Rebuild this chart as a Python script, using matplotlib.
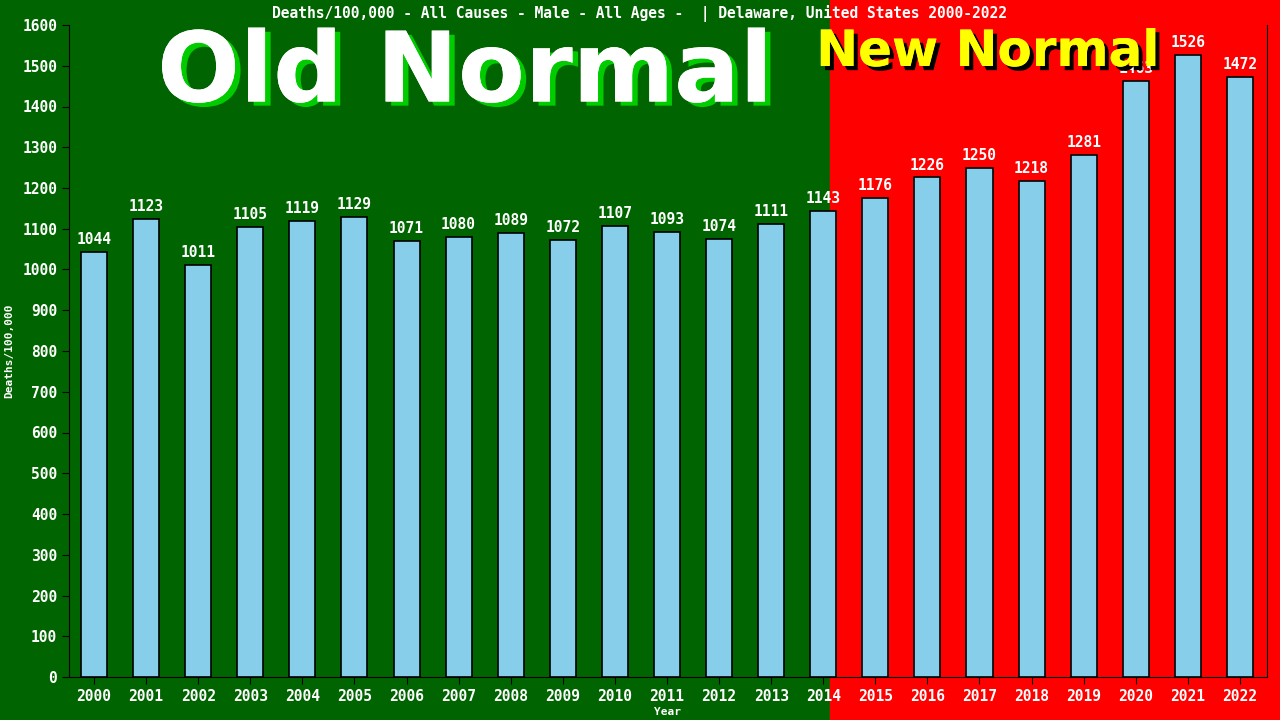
import matplotlib
matplotlib.use("Agg")
import matplotlib.pyplot as plt
import matplotlib.patheffects as pe

years = list(range(2000, 2023))
values = [1044, 1123, 1011, 1105, 1119, 1129, 1071, 1080, 1089, 1072, 1107, 1093,
          1074, 1111, 1143, 1176, 1226, 1250, 1218, 1281, 1463, 1526, 1472]
title = "Deaths/100,000 - All Causes - Male - All Ages -  | Delaware, United States 2000-2022"

fig = plt.figure(figsize=(12.8, 7.2), dpi=100)
fig.patch.set_facecolor("#006400")
W, H = 1280, 720
ax = fig.add_axes([69/W, 1-677/H, (1267-69)/W, (677-25)/H])
x0, x1 = -0.48, 22.52
ax.set_xlim(x0, x1)
ax.set_ylim(0, 1600)
split = 14.13
fx = (69 + (split - x0) / (x1 - x0) * (1267 - 69)) / W
fig.patches.append(plt.Rectangle((fx, 0), 1 - fx, 1, transform=fig.transFigure,
                                 color="#ff0000", zorder=-10))
ax.patch.set_alpha(0)

xs = list(range(len(years)))
ax.bar(xs, values, width=0.5, color="#87ceeb", edgecolor="black", linewidth=1.2, zorder=3)
for x, v in zip(xs, values):
    ax.text(x, v + 12, str(v), ha="center", va="bottom", color="white",
            fontsize=10.5, family="DejaVu Sans Mono", fontweight="bold", zorder=4)

ax.set_xticks(xs)
ax.set_xticklabels([str(y) for y in years])
ax.set_yticks(range(0, 1601, 100))
ax.tick_params(color="black", labelcolor="white", length=5, labelsize=10.5)
for lbl in ax.get_xticklabels() + ax.get_yticklabels():
    lbl.set_family("DejaVu Sans Mono"); lbl.set_fontweight("bold")
ax.spines["top"].set_visible(False)
for s in ["left", "bottom", "right"]:
    ax.spines[s].set_color("black")
ax.set_xlabel("Year", color="white", fontsize=8, family="DejaVu Sans Mono", fontweight="bold", labelpad=2)
ax.set_ylabel("Deaths/100,000", color="white", fontsize=8, family="DejaVu Sans Mono", fontweight="bold", labelpad=6)

fig.text(0.5, 1-13/H, title, ha="center", va="center", color="white",
         fontsize=10.5, family="DejaVu Sans Mono", fontweight="bold")
fig.text(465/W, 1-75/H, "Old Normal", ha="center", va="center", color="white",
         fontsize=70, fontweight="bold", family="DejaVu Sans",
         path_effects=[pe.withSimplePatchShadow(offset=(4, -3), shadow_rgbFace="#00cc00", alpha=1), pe.Normal()])
fig.text(988/W, 1-52/H, "New Normal", ha="center", va="center", color="yellow",
         fontsize=36, fontweight="bold", family="DejaVu Sans",
         path_effects=[pe.withSimplePatchShadow(offset=(3, -3), shadow_rgbFace="black", alpha=1), pe.Normal()])

fig.savefig("out.png", dpi=100, facecolor=fig.get_facecolor())
